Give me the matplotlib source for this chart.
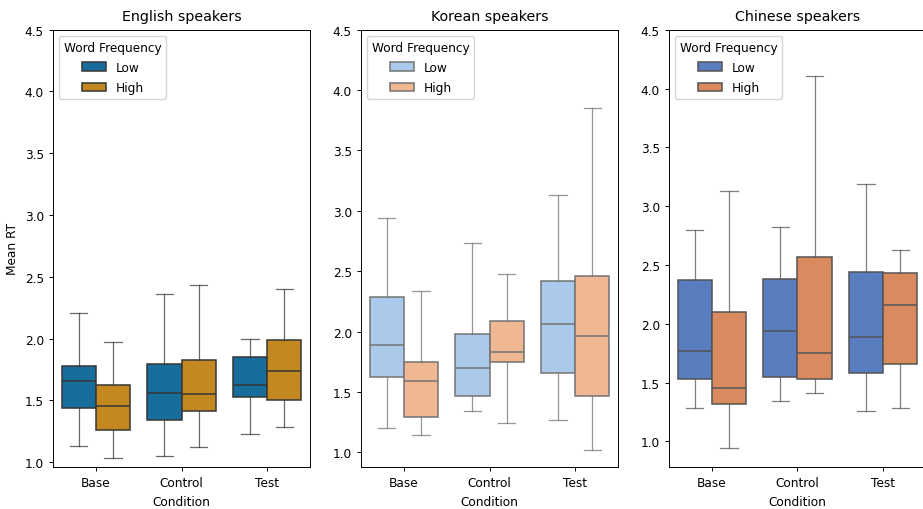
import colorsys
import matplotlib
matplotlib.use("Agg")
import matplotlib.pyplot as plt
from matplotlib.colors import to_rgb
from matplotlib.patches import Patch

# box stats: (whisker low, q1, median, q3, whisker high)
conditions = ["Base", "Control", "Test"]
freq_levels = ["Low", "High"]
groups = ["English speakers", "Korean speakers", "Chinese speakers"]

english_low = [(1.13, 1.44, 1.66, 1.78, 2.21),
               (1.05, 1.34, 1.56, 1.79, 2.36),
               (1.23, 1.53, 1.62, 1.85, 2.00)]
english_high = [(1.03, 1.26, 1.45, 1.62, 1.97),
                (1.12, 1.41, 1.55, 1.83, 2.43),
                (1.28, 1.50, 1.74, 1.99, 2.40)]
korean_low = [(1.20, 1.62, 1.89, 2.29, 2.94),
              (1.34, 1.47, 1.70, 1.98, 2.73),
              (1.27, 1.66, 2.06, 2.42, 3.13)]
korean_high = [(1.14, 1.29, 1.59, 1.75, 2.34),
               (1.24, 1.75, 1.83, 2.09, 2.48),
               (1.02, 1.47, 1.96, 2.46, 3.85)]
chinese_low = [(1.28, 1.53, 1.77, 2.37, 2.80),
               (1.34, 1.55, 1.94, 2.38, 2.82),
               (1.26, 1.58, 1.89, 2.44, 3.19)]
chinese_high = [(0.94, 1.32, 1.45, 2.10, 3.13),
                (1.41, 1.53, 1.75, 2.57, 4.11),
                (1.28, 1.66, 2.16, 2.43, 2.63)]

palettes = [["#0173b2", "#de8f05"],   # colorblind
            ["#a1c9f4", "#ffb482"],   # pastel
            ["#4878d0", "#ee854a"]]   # muted

data = [(english_low, english_high),
        (korean_low, korean_high),
        (chinese_low, chinese_high)]

# the reference looks rendered at ~86% scale
plt.rcParams.update({
    "font.size": 8.7,
    "axes.linewidth": 0.7,
    "xtick.major.width": 0.7,
    "ytick.major.width": 0.7,
    "xtick.major.size": 3.0,
    "ytick.major.size": 3.0,
})


def desaturate(color, prop=0.75):
    h, l, s = colorsys.rgb_to_hls(*to_rgb(color))
    return colorsys.hls_to_rgb(h, l, s * prop)


def gray_for(colors):
    lum = min(colorsys.rgb_to_hls(*to_rgb(c))[1] for c in colors) * 0.6
    return (lum, lum, lum)


W, H = 923, 510
fig = plt.figure(figsize=(W / 100, H / 100), dpi=100)
lefts = [53, 361, 669]
ax_w = 257
top_px, bot_px = 30.7, 468

for i, (title, (lows, highs), pal) in enumerate(zip(groups, data, palettes)):
    ax = fig.add_axes([lefts[i] / W, 1 - bot_px / H, ax_w / W, (bot_px - top_px) / H])
    cols = [desaturate(c) for c in pal]
    lc = gray_for(cols)

    for j, series in enumerate((lows, highs)):
        stats = []
        for lo, q1, med, q3, hi in series:
            stats.append({"whislo": lo, "q1": q1, "med": med, "q3": q3, "whishi": hi, "fliers": []})
        pos = [k - 0.2 + 0.4 * j for k in range(len(conditions))]
        ax.bxp(stats, positions=pos, widths=0.4, patch_artist=True, showfliers=False,
               manage_ticks=False,
               boxprops=dict(facecolor=cols[j], edgecolor=lc, linewidth=1.1),
               medianprops=dict(color=lc, linewidth=1.1),
               whiskerprops=dict(color=lc, linewidth=0.9, alpha=0.75),
               capprops=dict(color=lc, linewidth=0.9, alpha=0.75))

    ax.set_xlim(-0.5, len(conditions) - 0.5)
    ax.set_xticks(range(len(conditions)))
    ax.set_xticklabels(conditions)
    ax.set_ylim(top=4.5)
    ax.set_title(title, fontsize=10.3, pad=7)
    ax.set_xlabel("Condition", labelpad=4)
    if i == 0:
        ax.set_ylabel("Mean RT")

    handles = [Patch(facecolor=cols[j], edgecolor=lc, linewidth=1.1, label=freq_levels[j])
               for j in range(len(freq_levels))]
    ax.legend(handles=handles, title="Word Frequency", loc="upper left",
              labelspacing=0.6)

fig.savefig("out.png", dpi=100)
